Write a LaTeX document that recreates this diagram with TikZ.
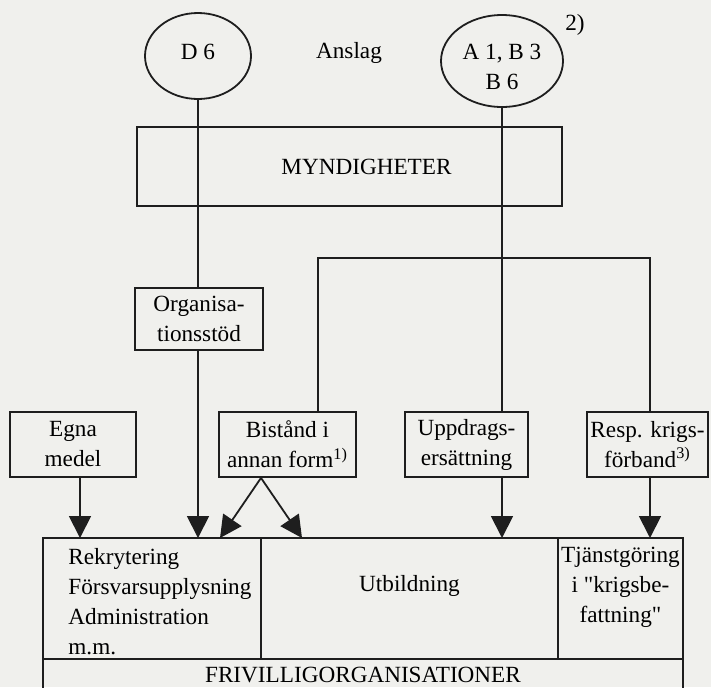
\documentclass[tikz,border=0pt]{standalone}
\usepackage{fontspec}
\setmainfont{Liberation Serif}
\usetikzlibrary{shapes.geometric}
\usetikzlibrary{positioning}
\usetikzlibrary{arrows.meta}
\definecolor{scanbg}{RGB}{240,240,237}
\definecolor{ink}{RGB}{30,30,30}

\begin{document}
\begin{tikzpicture}
			[
				x = 0.5pt, y = -0.5pt,
				font = \fontsize{11.6pt}{15pt}\selectfont,
				fund/.style = {ellipse, draw = ink, line width = 0.9pt, inner sep = 0pt, align = center},
				box/.style = {rectangle, draw = ink, line width = 0.9pt, inner sep = 0pt, align = center, minimum height = 32.5pt},
				cell/.style = {rectangle, draw = ink, line width = 0.9pt, inner sep = 0pt, outer sep = 0pt, minimum height = 60.5pt},
				flow/.style = {draw = ink, line width = 0.9pt},
				arr/.style = {flow, -{Triangle[length = 11pt, width = 11pt]}},
			]
			\useasboundingbox (0,0) rectangle (711,687);
			\fill [scanbg] (0,0) rectangle (711,687);
			\clip (0,0) rectangle (711,687);

			\node (d6) [fund, minimum width = 53pt, minimum height = 43pt, label = {[yshift = 2pt]center:D 6}] at (198,56) {};
			\node (a1) [fund, minimum width = 61pt, minimum height = 46pt, label = {[yshift = -3pt, align = center]center:A 1, B 3\\B 6}] at (502,61) {};
			\node (anslag) at (349,53) {Anslag};
			\node (note2) at (575,25) {2)};

			\node (myn) [box, minimum width = 212.5pt, minimum height = 39.5pt, label = {[xshift = 8.5pt]center:MYNDIGHETER}] at (349.5,166.5) {};
			\node (org) [box, minimum width = 64pt, minimum height = 31pt] at (199,319) {Organisa-\\tionsstöd};

			\node (egna) [box, minimum width = 63pt] at (73,444.5) {Egna\\medel};
			\node (bist) [box, minimum width = 68.5pt] at (287.5,444.5) {Bistånd i\\annan form\textsuperscript{1)}};
			\node (uppd) [box, minimum width = 61.5pt] at (466.5,444.5) {Uppdrags-\\ersättning};
			\node (resp) [box, minimum width = 60.5pt] at (647.5,444.5) {Resp. krigs-\\förband\textsuperscript{3)}};

			\node (adm) [cell, minimum width = 109pt] at (152,598.5) {};
			\node (utb) [cell, minimum width = 148.5pt, right = 0pt of adm] {};
			\node (tjanst) [cell, minimum width = 62.5pt, right = 0pt of utb] {};
			\node (friv) [cell, minimum width = 320pt, minimum height = 20.5pt, anchor = north west] at (adm.south west) {};

			\node (admtext) [anchor = west, align = left, inner sep = 0pt] at ([xshift = 12.5pt, yshift = -1.75pt]adm.west) {Rekrytering\\Försvarsupplysning\\Administration\\m.m.};
			\node (utbtext) at ([yshift = 6.5pt]utb.center) {Utbildning};
			\node (tjansttext) [align = center] at ([yshift = 5.75pt]tjanst.center) {Tjänstgöring\\i \textquotedbl krigsbe-\\fattning\textquotedbl};
			\node (frivtext) at ([yshift = 2.25pt]friv.center) {FRIVILLIGORGANISATIONER};

			\coordinate (bus) at (480,258);
			\coordinate (fork) at (utb.north west |- bist.south);

			\draw [flow] (d6.south) -- (d6.south |- org.north);
			\draw [arr] (d6.south |- org.south) -- (d6.south |- adm.north);
			\draw [flow] (a1.south) -- (a1.south |- uppd.north);
			\draw [arr] (a1.south |- uppd.south) -- (a1.south |- adm.north);
			\draw [flow] ([xshift = 15.25pt]bist.north) |- (bus) -| ([xshift = 1.25pt]resp.north);
			\draw [arr] ([xshift = 3.5pt]egna.south) coordinate (egnaout) -- (egnaout |- adm.north);
			\draw [arr] ([xshift = 1.25pt]resp.south) coordinate (respout) -- (respout |- adm.north);
			\draw [arr] (fork) -- ([xshift = -20.5pt]utb.north west);
			\draw [arr] (fork) -- ([xshift = 20.5pt]utb.north west);
		\end{tikzpicture}
\end{document}
